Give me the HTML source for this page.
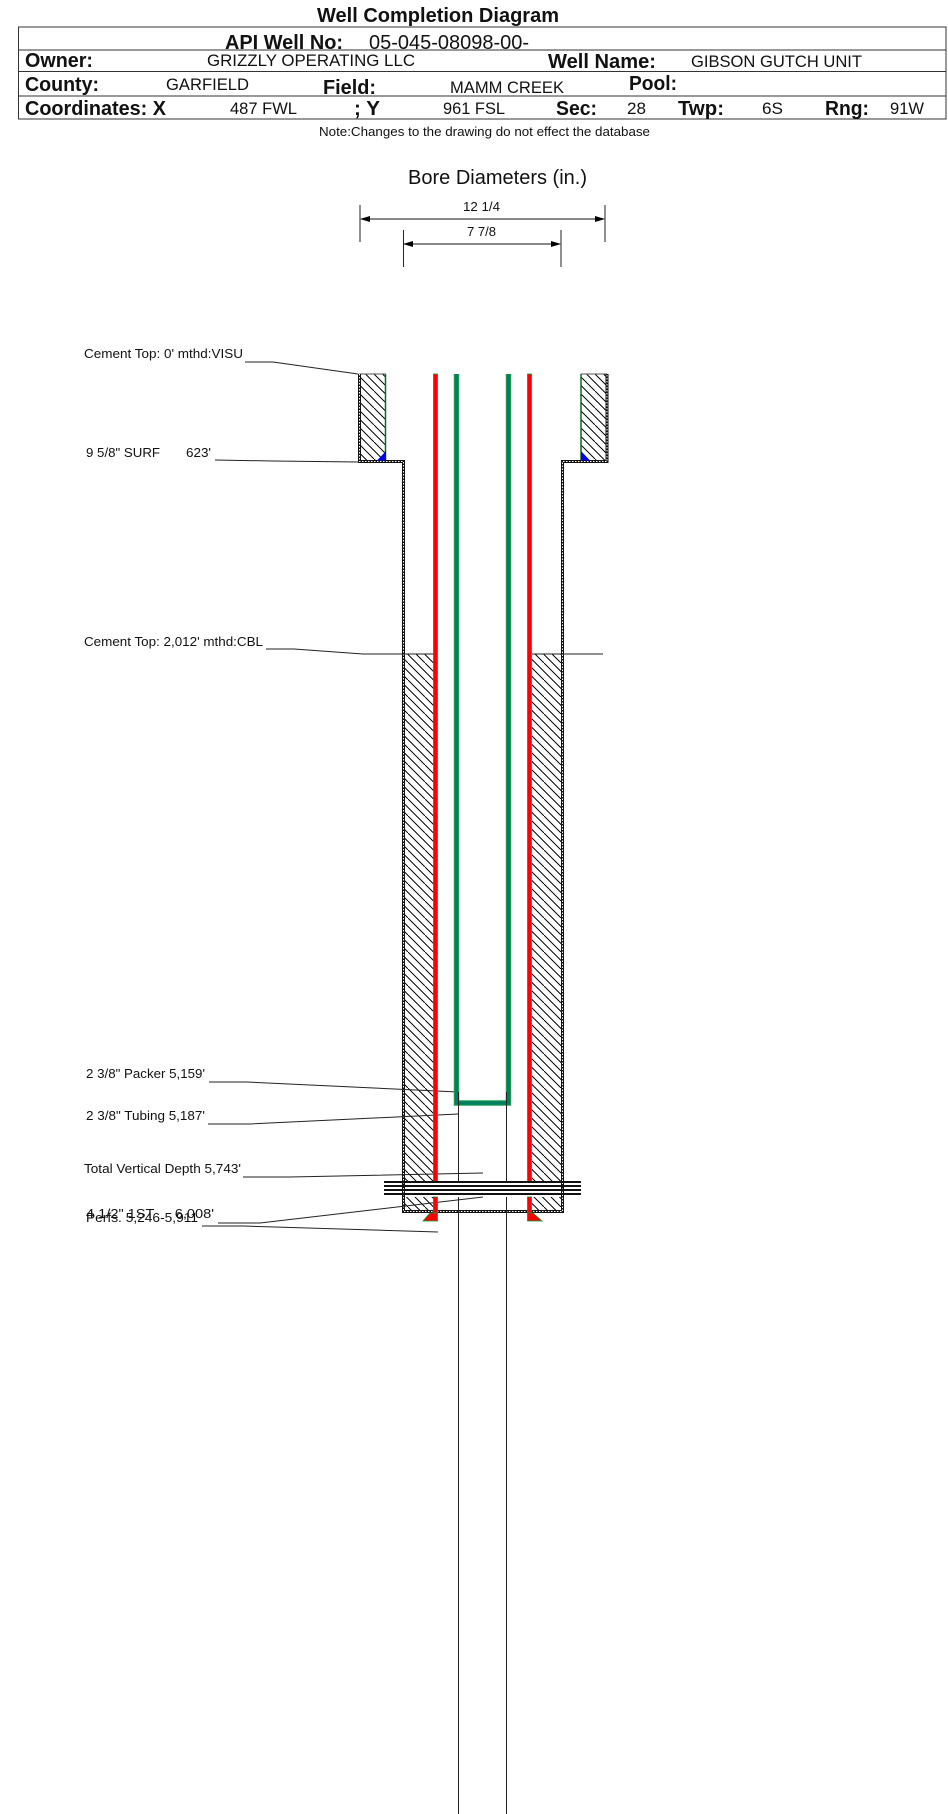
<!DOCTYPE html>
<html><head><meta charset="utf-8"><style>
html,body{margin:0;padding:0;background:#fff}
svg{display:block}
text{font-family:"Liberation Sans",Arial,sans-serif;fill:#111}
.b{font-weight:bold}
.l{font-size:13px}
.ln{stroke:#222;stroke-width:1;fill:none}
</style></head><body>
<svg xmlns="http://www.w3.org/2000/svg" width="948" height="1814" viewBox="0 0 948 1814">
<defs>
<pattern id="h" patternUnits="userSpaceOnUse" width="17" height="17">
<path d="M-1,-1L18,18M7.5,-1L18,9.5M-1,7.5L9.5,18" stroke="#111" stroke-width="1" fill="none" shape-rendering="crispEdges"/>
</pattern>
<marker id="a" markerWidth="10" markerHeight="6" refX="9" refY="3" orient="auto-start-reverse" markerUnits="userSpaceOnUse"><path d="M0,0 L10,3 L0,6 Z" fill="#000"/></marker>
</defs>
<rect width="948" height="1814" fill="#fff"/>

<!-- Header -->
<text class="b" x="317" y="22" font-size="20" textLength="242" lengthAdjust="spacingAndGlyphs">Well Completion Diagram</text>
<rect x="18.5" y="27" width="927.5" height="92" fill="none" stroke="#333"/>
<path d="M18 50H946M18 71.5H946M18 96H946" stroke="#333" stroke-width="1" fill="none"/>
<text class="b" x="225" y="49" font-size="20" textLength="118" lengthAdjust="spacingAndGlyphs">API Well No:</text>
<text x="369" y="49" font-size="20" textLength="160" lengthAdjust="spacingAndGlyphs">05-045-08098-00-</text>
<text class="b" x="25" y="67" font-size="20" textLength="68" lengthAdjust="spacingAndGlyphs">Owner:</text>
<text x="207" y="66" font-size="17" textLength="208" lengthAdjust="spacingAndGlyphs">GRIZZLY OPERATING LLC</text>
<text class="b" x="548" y="68" font-size="20" textLength="108" lengthAdjust="spacingAndGlyphs">Well Name:</text>
<text x="691" y="67" font-size="17" textLength="171" lengthAdjust="spacingAndGlyphs">GIBSON GUTCH UNIT</text>
<text class="b" x="25" y="91" font-size="20" textLength="74" lengthAdjust="spacingAndGlyphs">County:</text>
<text x="166" y="90" font-size="17" textLength="83" lengthAdjust="spacingAndGlyphs">GARFIELD</text>
<text class="b" x="323" y="94" font-size="20" textLength="53" lengthAdjust="spacingAndGlyphs">Field:</text>
<text x="450" y="93" font-size="17" textLength="114" lengthAdjust="spacingAndGlyphs">MAMM CREEK</text>
<text class="b" x="629" y="90" font-size="20" textLength="48" lengthAdjust="spacingAndGlyphs">Pool:</text>
<text class="b" x="25" y="115" font-size="20" textLength="141" lengthAdjust="spacingAndGlyphs">Coordinates: X</text>
<text x="230" y="114" font-size="17" textLength="67" lengthAdjust="spacingAndGlyphs">487 FWL</text>
<text class="b" x="354" y="115" font-size="20" textLength="26" lengthAdjust="spacingAndGlyphs">; Y</text>
<text x="443" y="114" font-size="17" textLength="62" lengthAdjust="spacingAndGlyphs">961 FSL</text>
<text class="b" x="556" y="115" font-size="20" textLength="41" lengthAdjust="spacingAndGlyphs">Sec:</text>
<text x="627" y="114" font-size="17" textLength="19" lengthAdjust="spacingAndGlyphs">28</text>
<text class="b" x="678" y="115" font-size="20" textLength="46" lengthAdjust="spacingAndGlyphs">Twp:</text>
<text x="762" y="114" font-size="17" textLength="21" lengthAdjust="spacingAndGlyphs">6S</text>
<text class="b" x="825" y="115" font-size="20" textLength="44" lengthAdjust="spacingAndGlyphs">Rng:</text>
<text x="890" y="114" font-size="17" textLength="34" lengthAdjust="spacingAndGlyphs">91W</text>
<text x="319" y="136" font-size="13" textLength="331" lengthAdjust="spacingAndGlyphs">Note:Changes to the drawing do not effect the database</text>

<!-- Bore diameters -->
<text x="408" y="184" font-size="20" textLength="179" lengthAdjust="spacingAndGlyphs">Bore Diameters (in.)</text>
<text x="463" y="211" font-size="13" textLength="37" lengthAdjust="spacingAndGlyphs">12 1/4</text>
<text x="467" y="236" font-size="13" textLength="29" lengthAdjust="spacingAndGlyphs">7 7/8</text>
<path class="ln" d="M360,205V242M605,205V242M403.5,230V267M561,230V267"/>
<line x1="361" y1="219" x2="604" y2="219" stroke="#111" marker-start="url(#a)" marker-end="url(#a)"/>
<line x1="404" y1="244" x2="560" y2="244" stroke="#111" marker-start="url(#a)" marker-end="url(#a)"/>

<!-- Cement hatch -->
<rect x="359" y="374" width="27" height="87" fill="url(#h)"/>
<rect x="581" y="374" width="26" height="87" fill="url(#h)"/>
<rect x="403" y="654" width="31" height="528" fill="url(#h)"/>
<rect x="532" y="654" width="31" height="528" fill="url(#h)"/>
<rect x="403" y="1197" width="31" height="14" fill="url(#h)"/>
<rect x="532" y="1197" width="31" height="14" fill="url(#h)"/>
<path d="M359,374H386M581,374H607" stroke="#555" stroke-width="1"/>

<!-- Casing -->
<path d="M359.5,374V461.5H403.5V1211.5H562.5V461.5H607V374M403.5,1197V1211" fill="none" stroke="#111" stroke-width="3"/>
<path d="M359.5,374V461.5H403.5V1211.5H562.5V461.5H607V374" fill="none" stroke="#fff" stroke-width="1" stroke-dasharray="1.5 1.5"/>

<!-- Surface inner liners -->
<path d="M385.5,374V460M581,374V460" stroke="#0a6a2a" stroke-width="1.5"/>
<path d="M377,460.5L386,460.5L386,451ZM581,451L581,460.5L590,460.5Z" fill="#0000ee"/>

<!-- Leaders -->
<path class="ln" d="M245,362H273L358,374"/>
<path class="ln" d="M215,460L273,461L358,462"/>
<path class="ln" d="M266,649H294L363,654H434"/>
<path class="ln" d="M532,654H603"/>
<path class="ln" d="M209,1082H247L458,1092"/>
<path class="ln" d="M208,1124H250L458,1114"/>
<path class="ln" d="M243,1177H290L483,1173"/>
<path class="ln" d="M218,1223H260L483,1197"/>
<path class="ln" d="M202,1226H243L438,1232"/>

<!-- Red tubes -->
<g fill="#f00" stroke="#009a30" stroke-width="0.8">
<rect x="433.5" y="374" width="4" height="808"/>
<rect x="527.5" y="374" width="4" height="808"/>
<rect x="433.5" y="1197" width="4" height="16"/>
<rect x="527.5" y="1197" width="4" height="16"/>
<path d="M423,1221L437.5,1221L437.5,1213L430,1213Z"/>
<path d="M527.5,1213L533,1213L542,1221L527.5,1221Z"/>
</g>

<!-- Tubing -->
<path d="M456.5,374V1103H508.5V374" fill="none" stroke="#2aa050" stroke-width="5.5"/>
<path d="M456.5,374V1103H508.5V374" fill="none" stroke="#008060" stroke-width="3.5"/>

<!-- Thin lower lines -->
<path class="ln" d="M458.5,1092V1182M458.5,1197V1814M506.5,1092V1182M506.5,1197V1814" stroke="#111"/>

<!-- Break lines -->
<path d="M384,1182H581M384,1186H581M384,1190H581M384,1194H581" stroke="#111" stroke-width="2" fill="none"/>

<!-- Labels -->
<text class="l" x="84" y="358" textLength="159" lengthAdjust="spacingAndGlyphs">Cement Top: 0' mthd:VISU</text>
<text class="l" x="86" y="457" textLength="74" lengthAdjust="spacingAndGlyphs">9 5/8" SURF</text>
<text class="l" x="186" y="457" textLength="25" lengthAdjust="spacingAndGlyphs">623'</text>
<text class="l" x="84" y="646" textLength="179" lengthAdjust="spacingAndGlyphs">Cement Top: 2,012' mthd:CBL</text>
<text class="l" x="86" y="1078" textLength="119" lengthAdjust="spacingAndGlyphs">2 3/8" Packer 5,159'</text>
<text class="l" x="86" y="1120" textLength="119" lengthAdjust="spacingAndGlyphs">2 3/8" Tubing 5,187'</text>
<text class="l" x="84" y="1173" textLength="157" lengthAdjust="spacingAndGlyphs">Total Vertical Depth 5,743'</text>
<text class="l" x="86" y="1218" textLength="128" lengthAdjust="spacingAndGlyphs">4 1/2" 1ST&#160;&#160;&#160;&#160;&#160;6,008'</text>
<text class="l" x="86" y="1222" textLength="112" lengthAdjust="spacingAndGlyphs">Perfs. 5,246-5,911</text>
</svg>
</body></html>
